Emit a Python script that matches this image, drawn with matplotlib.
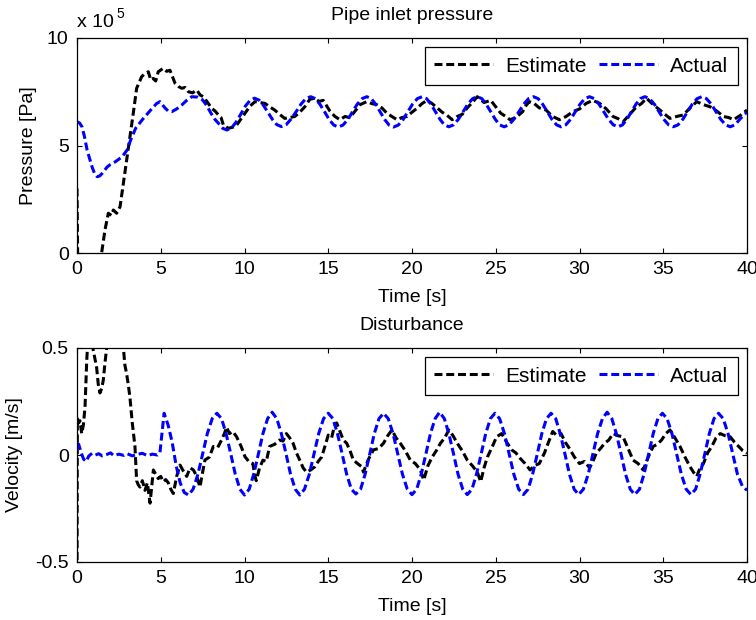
import matplotlib
matplotlib.use("Agg")
import matplotlib.pyplot as plt

plt.rcParams['font.family'] = ['Liberation Sans', 'DejaVu Sans']
plt.rcParams['font.size'] = 14
plt.rcParams['axes.unicode_minus'] = False

# ---- Pipe inlet pressure, estimate (units of 1e5 Pa) ----
t_pres_est = [0.0, 0.05, 1.3, 1.47, 1.67, 1.87, 2.05, 2.17, 2.37, 2.57, 2.77, 2.97, 3.16, 3.36, 3.56,
              3.86, 4.06, 4.26, 4.4, 4.56, 4.7, 4.85, 5.15, 5.35, 5.55, 5.85, 6.05, 6.25, 6.45, 6.65,
              6.9, 7.15, 7.35, 7.54, 7.8, 8.04, 8.25, 8.44, 8.6, 8.74, 9.04, 9.3, 9.53, 9.8, 10.03,
              10.35, 10.63, 10.9, 11.22, 11.5, 11.8, 12.1, 12.4, 12.7, 13.0, 13.3, 13.6, 13.9, 14.2,
              14.45, 14.7, 15.1, 15.4, 15.7, 16.0, 16.25, 16.5, 16.9, 17.3, 17.6, 17.9, 18.2, 18.5,
              18.8, 19.1, 19.4, 19.7, 20.0, 20.3, 20.6, 20.9, 21.2, 21.5, 21.8, 22.1, 22.4, 22.7,
              23.0, 23.3, 23.6, 23.9, 24.3, 24.7, 25.0, 25.3, 25.6, 25.85, 26.2, 26.6, 26.8, 27.0,
              27.3, 27.6, 28.0, 28.4, 28.8, 29.2, 29.6, 30.0, 30.4, 30.8, 31.2, 31.6, 32.0, 32.3,
              32.6, 33.0, 33.4, 33.7, 34.0, 34.4, 34.8, 35.1, 35.4, 35.8, 36.2, 36.6, 37.0, 37.4,
              37.8, 38.2, 38.6, 38.9, 39.2, 39.6, 40.0]
pres_est = [3.0, -1.0, -1.0, 0.0, 1.07, 1.85, 1.75, 2.0, 1.85, 2.15, 3.24, 4.33, 5.4, 6.5, 7.66,
            8.2, 8.35, 8.43, 8.05, 8.12, 8.0, 8.43, 8.59, 8.45, 8.5, 7.9, 7.75, 7.66, 7.7, 7.5,
            7.45, 7.58, 7.35, 7.27, 7.0, 6.73, 6.6, 6.42, 6.3, 5.95, 5.8, 5.85, 5.95, 6.25, 6.5,
            6.85, 7.04, 7.0, 6.96, 6.8, 6.65, 6.45, 6.26, 6.3, 6.35, 6.55, 6.8, 7.15, 7.2,
            7.05, 7.1, 6.6, 6.35, 6.2, 6.35, 6.3, 6.5, 6.9, 7.04, 6.95, 6.9, 6.75, 6.5,
            6.35, 6.2, 6.3, 6.35, 6.55, 6.73, 6.95, 7.1, 6.95, 6.75, 6.55, 6.4, 6.2, 6.35,
            6.45, 6.75, 7.0, 7.27, 7.0, 7.1, 6.8, 6.5, 6.35, 6.2, 6.3, 6.57, 6.85, 7.04,
            6.95, 6.75, 6.65, 6.35, 6.2, 6.35, 6.57, 6.7, 6.96, 7.1, 6.96, 6.7, 6.35, 6.25,
            6.1, 6.45, 6.8, 6.95, 7.2, 6.9, 6.65, 6.45, 6.26, 6.35, 6.42, 6.75, 7.04, 6.9,
            6.8, 6.6, 6.35, 6.3, 6.2, 6.4, 6.65]

# ---- Pipe inlet pressure, actual (units of 1e5 Pa) ----
t_pres_act = [0.0, 0.15, 0.3, 0.45, 0.6, 0.9, 1.05, 1.2, 1.35, 1.5, 1.8, 2.0, 2.3, 2.7, 3.0, 3.2,
              3.5, 3.9, 4.4, 4.75, 4.95, 5.25, 5.45, 5.65, 5.95, 6.25, 6.55, 6.85, 7.2, 7.5, 7.75,
              8.0, 8.25, 8.45, 8.7, 8.95,
              9.23, 9.5, 9.78, 10.05, 10.33, 10.6, 10.87, 11.13, 11.4, 11.67, 11.93, 12.2,
              12.49, 12.78, 13.08, 13.37, 13.66, 13.95, 14.23, 14.5, 14.78, 15.05, 15.33, 15.6,
              15.88, 16.17, 16.45, 16.73, 17.02, 17.3, 17.57, 17.83, 18.1, 18.37, 18.63, 18.9,
              19.18, 19.47, 19.75, 20.03, 20.32, 20.6, 20.87, 21.13, 21.4, 21.67, 21.93, 22.2,
              22.48, 22.77, 23.05, 23.33, 23.62, 23.9, 24.17, 24.43, 24.7, 24.97, 25.23, 25.5,
              25.79, 26.08, 26.38, 26.67, 26.96, 27.25, 27.53, 27.8, 28.08, 28.35, 28.63, 28.9,
              29.18, 29.47, 29.75, 30.03, 30.32, 30.6, 30.88, 31.17, 31.45, 31.73, 32.02, 32.3,
              32.57, 32.83, 33.1, 33.37, 33.63, 33.9, 34.18, 34.47, 34.75, 35.03, 35.32, 35.6,
              35.88, 36.17, 36.45, 36.73, 37.02, 37.3, 37.58, 37.87, 38.15, 38.43, 38.72, 39.0,
              39.28, 39.57, 39.85, 40.0]
pres_act = [6.1, 6.05, 5.87, 5.4, 4.8, 4.0, 3.7, 3.55, 3.58, 3.7, 4.0, 4.12, 4.25, 4.48, 4.8, 5.25,
            5.8, 6.2, 6.65, 6.95, 7.04, 6.75, 6.6, 6.57, 6.7, 6.88, 7.1, 7.27, 7.25, 7.12, 6.85,
            6.5, 6.2, 6.03, 5.8, 5.72,
            5.82, 6.09, 6.46, 6.83, 7.1, 7.2, 7.11, 6.87, 6.54, 6.21, 5.97, 5.88,
            5.97, 6.23, 6.57, 6.92, 7.18, 7.27, 7.18, 6.92, 6.57, 6.21, 5.95, 5.86,
            5.95, 6.21, 6.57, 6.92, 7.18, 7.27, 7.18, 6.92, 6.57, 6.21, 5.95, 5.86,
            5.95, 6.21, 6.57, 6.92, 7.18, 7.27, 7.18, 6.92, 6.57, 6.22, 5.96, 5.87,
            5.96, 6.22, 6.57, 6.92, 7.18, 7.27, 7.18, 6.92, 6.57, 6.22, 5.96, 5.87,
            5.96, 6.22, 6.57, 6.92, 7.18, 7.27, 7.18, 6.92, 6.57, 6.22, 5.96, 5.87,
            5.96, 6.22, 6.57, 6.92, 7.18, 7.27, 7.18, 6.92, 6.57, 6.22, 5.96, 5.87,
            5.96, 6.22, 6.57, 6.92, 7.18, 7.27, 7.18, 6.92, 6.57, 6.22, 5.96, 5.87,
            5.96, 6.22, 6.57, 6.92, 7.18, 7.27, 7.18, 6.92, 6.57, 6.22, 5.96, 5.87,
            5.96, 6.22, 6.45, 6.55]

# ---- Disturbance velocity, estimate (m/s) ----
t_vel_est = [0.0, 0.02, 0.1, 0.18, 0.28, 0.38, 0.48, 0.58, 0.68, 0.85, 0.97, 1.07, 1.17, 1.27, 1.37,
             1.47, 1.57, 1.67, 1.77, 2.0, 2.4, 2.77, 2.86, 2.96, 3.06, 3.16, 3.3, 3.46, 3.56, 3.66,
             3.76, 3.9, 4.06, 4.2, 4.36, 4.46, 4.56, 4.7, 4.85, 5.0, 5.15, 5.3, 5.45, 5.6, 5.75,
             5.95, 6.15, 6.35, 6.55, 6.75, 6.95, 7.15, 7.34, 7.5, 7.64, 7.9, 8.14, 8.4, 8.63, 8.8,
             8.93, 9.1, 9.3, 9.53, 9.8, 10.03, 10.25, 10.5, 10.6, 10.7, 10.9, 11.1, 11.3, 11.5,
             11.8, 12.1, 12.3, 12.5, 12.7, 12.9, 13.1, 13.3, 13.5, 13.7, 13.95, 14.2, 14.4, 14.6,
             14.8, 15.0, 15.2, 15.35, 15.5, 15.7, 15.9, 16.1, 16.3, 16.5, 16.75, 17.0, 17.1, 17.4,
             17.7, 18.0, 18.3, 18.55, 18.8, 19.05, 19.3, 19.6, 19.9, 20.2, 20.5, 20.7, 20.95,
             21.2, 21.45, 21.7, 21.95, 22.2, 22.45, 22.7, 23.0, 23.3, 23.6, 23.9, 24.1, 24.3,
             24.5, 24.8, 25.05, 25.35, 25.65, 25.95, 26.2, 26.45, 26.75, 27.05, 27.3, 27.6, 27.9,
             28.15, 28.4, 28.65, 28.9, 29.15, 29.4, 29.7, 30.0, 30.3, 30.6, 30.8, 31.0, 31.25,
             31.5, 31.75, 32.0, 32.3, 32.6, 32.9, 33.2, 33.5, 33.8, 34.1, 34.4, 34.65, 34.9,
             35.15, 35.4, 35.7, 36.0, 36.3, 36.6, 36.8, 37.0, 37.2, 37.4, 37.65, 37.9, 38.15,
             38.4, 38.7, 39.0, 39.25, 39.5, 39.75, 40.0]
vel_est = [-0.6, 0.17, 0.15, 0.16, 0.1, 0.14, 0.225, 0.44, 0.58, 0.62, 0.49, 0.45, 0.41, 0.33, 0.29,
           0.31, 0.35, 0.43, 0.5, 0.65, 0.7, 0.5, 0.42, 0.38, 0.33, 0.27, 0.15, 0.04, -0.12, -0.14,
           -0.15, -0.12, -0.165, -0.13, -0.225, -0.15, -0.07, -0.09, -0.11, -0.1, -0.125, -0.115, -0.13, -0.16, -0.18,
           -0.1, -0.047, -0.075, -0.1, -0.06, -0.07, -0.1, -0.15, -0.08, -0.023, -0.01, 0.04, 0.035, 0.07, 0.1,
           0.13, 0.1, 0.11, 0.085, 0.04, -0.008, -0.03, -0.04, -0.09, -0.12, -0.06, -0.024, -0.03, 0.04,
           0.05, 0.07, 0.065, 0.1, 0.08, 0.055, 0.01, -0.024, -0.06, -0.08, -0.07, -0.055, -0.03, -0.01,
           0.04, 0.093, 0.08, 0.13, 0.15, 0.11, 0.07, 0.055, 0.02, -0.024, -0.04, -0.055, -0.08, -0.02,
           0.024, 0.03, 0.055, 0.09, 0.117, 0.08, 0.055, 0.02, -0.024, -0.04, -0.07, -0.117, -0.05,
           -0.01, 0.02, 0.055, 0.08, 0.117, 0.09, 0.055, 0.02, -0.024, -0.05, -0.08, -0.125, -0.06,
           -0.01, 0.04, 0.085, 0.1, 0.06, 0.024, 0.01, -0.015, -0.04, -0.07, -0.05, -0.04, 0.008,
           0.06, 0.11, 0.09, 0.1, 0.06, 0.03, -0.01, -0.04, -0.03, -0.06, -0.03, 0.008, 0.03,
           0.055, 0.07, 0.1, 0.09, 0.085, 0.03, -0.024, -0.04, -0.07, -0.01, 0.04, 0.05, 0.07,
           0.1, 0.117, 0.08, 0.04, -0.01, -0.055, -0.08, -0.1, -0.06, -0.04, 0.01, 0.04, 0.08,
           0.1, 0.09, 0.085, 0.06, 0.04, 0.02, 0.008]

# ---- Disturbance velocity, actual (m/s) ----
t_vel_act = [0.0, 0.1, 0.25, 0.4, 0.55, 0.7, 0.9, 1.1, 1.3, 1.5, 1.8, 2.0, 2.2, 2.5, 2.8, 3.0,
             3.3, 3.6, 3.9, 4.2, 4.5, 4.8, 4.95, 5.2,
             5.44, 5.68, 5.92, 6.16, 6.4, 6.65,
             6.93, 7.22, 7.5, 7.78, 8.07, 8.35, 8.63, 8.9, 9.18, 9.45, 9.73, 10.0,
             10.28, 10.55, 10.83, 11.1, 11.38, 11.65, 11.93, 12.2, 12.48, 12.75, 13.03, 13.3,
             13.58, 13.87, 14.15, 14.43, 14.72, 15.0, 15.28, 15.55, 15.83, 16.1, 16.38, 16.65,
             16.93, 17.2, 17.48, 17.75, 18.03, 18.3, 18.58, 18.87, 19.15, 19.43, 19.72, 20.0,
             20.28, 20.55, 20.83, 21.1, 21.38, 21.65, 21.93, 22.2, 22.48, 22.75, 23.03, 23.3,
             23.58, 23.85, 24.13, 24.4, 24.68, 24.95, 25.23, 25.52, 25.8, 26.08, 26.37, 26.65,
             26.93, 27.2, 27.48, 27.75, 28.03, 28.3, 28.58, 28.85, 29.13, 29.4, 29.68, 29.95,
             30.23, 30.52, 30.8, 31.08, 31.37, 31.65, 31.93, 32.2, 32.48, 32.75, 33.03, 33.3,
             33.58, 33.85, 34.13, 34.4, 34.68, 34.95, 35.23, 35.52, 35.8, 36.08, 36.37, 36.65,
             36.93, 37.2, 37.48, 37.75, 38.03, 38.3, 38.58, 38.87, 39.15, 39.43, 39.72, 40.0]
vel_act = [0.056, 0.05, 0.01, -0.02, -0.03, -0.005, 0.008, 0.0, 0.006, -0.004, 0.003, 0.01, -0.003, 0.004, -0.002, 0.006,
           -0.004, 0.003, 0.008, -0.003, 0.004, 0.0, 0.01, 0.195,
           0.14, 0.06, -0.05, -0.13, -0.175, -0.187,
           -0.16, -0.09, 0.005, 0.1, 0.17, 0.195, 0.17, 0.1, 0.005, -0.09, -0.16, -0.187,
           -0.16, -0.09, 0.005, 0.1, 0.17, 0.2, 0.17, 0.1, 0.005, -0.09, -0.16, -0.187,
           -0.16, -0.09, 0.005, 0.1, 0.17, 0.195, 0.17, 0.1, 0.005, -0.09, -0.16, -0.182,
           -0.16, -0.09, 0.005, 0.1, 0.17, 0.195, 0.17, 0.1, 0.005, -0.09, -0.16, -0.185,
           -0.16, -0.09, 0.005, 0.1, 0.17, 0.2, 0.17, 0.1, 0.005, -0.09, -0.16, -0.185,
           -0.16, -0.09, 0.005, 0.1, 0.17, 0.195, 0.17, 0.1, 0.005, -0.09, -0.16, -0.185,
           -0.16, -0.09, 0.005, 0.1, 0.17, 0.195, 0.17, 0.1, 0.005, -0.09, -0.16, -0.185,
           -0.16, -0.09, 0.005, 0.1, 0.17, 0.2, 0.17, 0.1, 0.005, -0.09, -0.16, -0.185,
           -0.16, -0.09, 0.005, 0.1, 0.17, 0.195, 0.17, 0.1, 0.005, -0.09, -0.16, -0.185,
           -0.16, -0.09, 0.005, 0.1, 0.17, 0.195, 0.17, 0.1, 0.005, -0.09, -0.145, -0.165]

time_ticks = [0, 5, 10, 15, 20, 25, 30, 35, 40]
pres_ticks = [0, 5, 10]
vel_ticks = [-0.5, 0, 0.5]
vel_tick_labels = ['-0.5', '0', '0.5']
series_labels = ['Estimate', 'Actual']

W, H = 756, 620
fig = plt.figure(figsize=(W / 100, H / 100), dpi=100)
ax1 = fig.add_axes([77 / W, 1 - 253 / H, 670 / W, 215 / H])
ax2 = fig.add_axes([77 / W, 1 - 562 / H, 670 / W, 214 / H])

lw = 2.2
dash = (2.6, 1.25)

ax1.plot(t_pres_est, pres_est, color='black', lw=lw, dashes=dash, label=series_labels[0])
ax1.plot(t_pres_act, pres_act, color='blue', lw=lw, dashes=dash, label=series_labels[1])
ax2.plot(t_vel_est, vel_est, color='black', lw=lw, dashes=dash, label=series_labels[0])
ax2.plot(t_vel_act, vel_act, color='blue', lw=lw, dashes=dash, label=series_labels[1])

ax1.set_xlim(0, 40)
ax1.set_ylim(0, 10)
ax1.set_yticks(pres_ticks)
ax1.set_yticklabels([str(v) for v in pres_ticks])
ax2.set_xlim(0, 40)
ax2.set_ylim(-0.5, 0.5)
ax2.set_yticks(vel_ticks)
ax2.set_yticklabels(vel_tick_labels)

for ax in (ax1, ax2):
    ax.set_xticks(time_ticks)
    ax.set_xticklabels([str(v) for v in time_ticks])
    ax.tick_params(direction='in', length=3.6, width=0.8, top=True, right=True,
                   labelsize=14, pad=6)
    for sp in ax.spines.values():
        sp.set_linewidth(0.9)
    ax.set_xlabel('Time [s]', labelpad=7.5)
    leg = ax.legend(loc='upper right', ncol=2, fancybox=False, framealpha=1,
                    edgecolor='black', handlelength=2.8, handletextpad=0.6,
                    columnspacing=0.6, borderpad=0.45, borderaxespad=0.45, fontsize=15)
    leg.get_frame().set_linewidth(0.9)

ax1.set_ylabel('Pressure [Pa]', labelpad=7)
ax2.set_ylabel('Velocity [m/s]', labelpad=9)
ax1.set_title('Pipe inlet pressure', pad=13, fontsize=14)
ax2.set_title('Disturbance', pad=13, fontsize=14)

# scale factor for the pressure axis
fig.text(77 / W, 1 - 27 / H, 'x 10', fontsize=14, va='baseline', ha='left')
fig.text(116 / W, 1 - 18 / H, '5', fontsize=10, va='baseline', ha='left')

fig.savefig('out.png', dpi=100)
